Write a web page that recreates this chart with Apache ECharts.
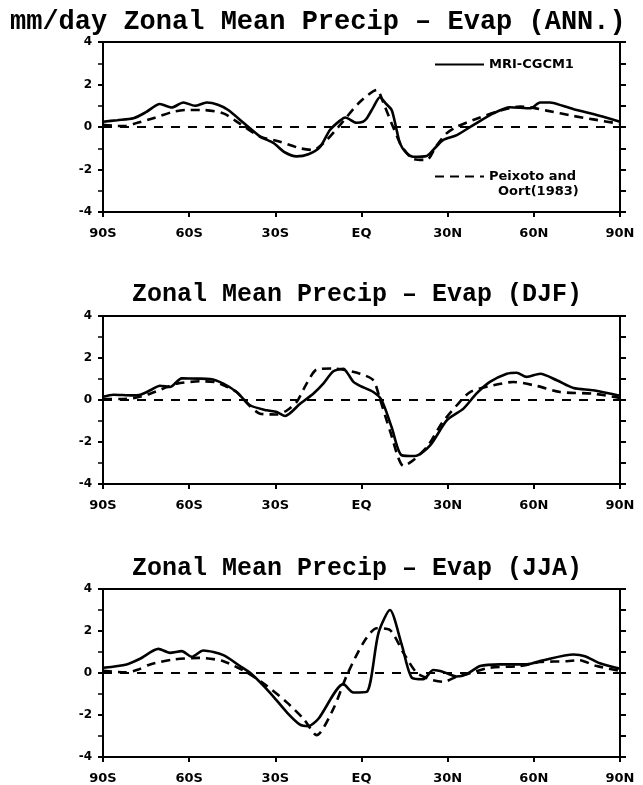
<!DOCTYPE html>
<html>
<head>
<meta charset="utf-8">
<script src="https://cdn.jsdelivr.net/npm/echarts@6/dist/echarts.min.js"></script>
<style>
html,body{margin:0;padding:0;background:#fff;}
#chart{width:643px;height:785px;}
</style>
</head>
<body>
<div id="chart"></div>
<script>
// ---- tick labels ----
var xTickValues = [-90, -60, -30, 0, 30, 60, 90];
var xTickLabels = ['90S', '60S', '30S', 'EQ', '30N', '60N', '90N'];
var yTickValues = [-4, -2, 0, 2, 4];
var yTickLabels = ['-4', '-2', '0', '2', '4'];

var panelTitles = ['mm/day Zonal Mean Precip \u2013 Evap (ANN.)', 'Zonal Mean Precip \u2013 Evap (DJF)', 'Zonal Mean Precip \u2013 Evap (JJA)'];
var modelName = 'MRI-CGCM1';
var obsName = 'Peixoto and Oort(1983)';

// ---- ANN ----
var annMriLat = [-90,-85,-79.4,-75,-70.2,-66.1,-62,-58,-53.9,-50,-46.4,-41.1,-35.3,-30.7,-26.6,-22.6,-18.5,-14.4,-11,-7.5,-5.7,-1.7,0.5,1.8,4,6.4,8.5,10.5,12,13.4,15.5,18,22.7,25.5,28.5,33.2,38.9,45.9,51.7,58.7,62.2,65.6,70,74.9,80.7,90];
var annMri    = [0.25,0.32,0.41,0.7,1.08,0.92,1.15,1.0,1.15,1.05,0.8,0.2,-0.45,-0.75,-1.2,-1.38,-1.28,-0.93,-0.14,0.3,0.45,0.2,0.25,0.4,0.9,1.4,1.1,0.8,0.0,-0.77,-1.2,-1.4,-1.36,-1.0,-0.61,-0.38,0.09,0.64,0.93,0.88,1.15,1.15,1.0,0.8,0.61,0.25];
var annObsLat = [-90,-85,-82,-78,-72.5,-65.5,-60.9,-55.1,-48.1,-42.5,-35.3,-28.4,-21.4,-16.8,-12.1,-7.5,-0.5,5.3,8,11,14,18,22.7,26,29.6,33,38.9,48.2,55.2,60,64.5,73.8,80.7,90];
var annObs    = [0.1,0.05,0.05,0.2,0.41,0.72,0.8,0.8,0.64,0.17,-0.45,-0.69,-1.0,-1.08,-0.61,0.09,1.19,1.74,1.0,0.0,-0.9,-1.5,-1.55,-0.9,-0.3,0.0,0.33,0.77,0.96,0.9,0.77,0.52,0.36,0.15];

// ---- DJF ----
var djfMriLat = [-90,-86.4,-80,-77,-73,-70.2,-66.7,-62.6,-57,-52.7,-48.1,-43.5,-38.8,-33,-29.5,-26.6,-21.4,-16.8,-13.3,-9.8,-6.3,-4.5,-2.8,-0.5,4.1,7,10.5,14,18.6,23.9,29.7,35.5,40,44.7,50.6,54,57.5,62.2,68,73.8,80.7,90];
var djfMri    = [0.15,0.25,0.22,0.25,0.5,0.68,0.62,1.03,1.02,1.0,0.78,0.38,-0.25,-0.49,-0.57,-0.76,-0.18,0.3,0.78,1.37,1.49,1.2,0.86,0.67,0.38,0.0,-1.3,-2.63,-2.67,-2.16,-0.97,-0.41,0.3,0.86,1.25,1.3,1.1,1.25,0.94,0.57,0.46,0.2];
var djfObsLat = [-90,-84,-79,-73.6,-68,-64.3,-56.2,-51,-48,-43.5,-38.8,-35.3,-29.5,-26,-22.6,-19.1,-15.6,-9.8,-0.5,4.1,6.4,10,14.6,18,23,28,33.2,37.8,45.9,52.9,61,69.1,80.7,90];
var djfObs    = [0.05,0.05,0.1,0.3,0.6,0.78,0.89,0.85,0.7,0.38,-0.3,-0.65,-0.69,-0.5,-0.1,0.78,1.45,1.5,1.25,0.94,0.06,-1.5,-3.14,-2.87,-2.2,-1.1,-0.25,0.38,0.7,0.86,0.67,0.38,0.3,0.1];

// ---- JJA ----
var jjaMriLat = [-90,-81.8,-77.1,-70.7,-66.7,-62.6,-59.1,-55.1,-48.1,-42.3,-38.2,-31.9,-26,-21.4,-18.5,-15,-6.3,-2.8,1.8,5.9,9.9,14,17.5,21.5,25,28.5,33.2,36.6,41.3,48.2,57.5,63.3,73.8,77.8,83,90];
var jjaMri    = [0.25,0.41,0.68,1.15,0.96,1.04,0.77,1.07,0.85,0.33,-0.06,-0.93,-1.87,-2.46,-2.53,-2.18,-0.53,-0.93,-0.9,1.9,3.0,1.35,-0.22,-0.3,0.14,0.05,-0.17,-0.06,0.33,0.41,0.41,0.61,0.88,0.8,0.46,0.2];
var jjaObsLat = [-90,-82,-78,-73.6,-65.5,-56.2,-48.1,-39.6,-33,-26,-20.2,-15.6,-9.8,-5.2,0.6,5.3,9.9,14.6,19.2,23.9,28.5,33.2,38,44.7,55,62.2,71.5,75.6,81.9,90];
var jjaObs    = [0.1,0.03,0.15,0.41,0.64,0.72,0.56,0.0,-0.61,-1.4,-2.18,-2.96,-1.71,-0.14,1.43,2.13,2.05,0.96,0.01,-0.3,-0.42,-0.17,0.0,0.25,0.33,0.52,0.56,0.61,0.33,0.1];

function pairs(xs, ys) { return xs.map(function (x, i) { return [x, ys[i]]; }); }

var panels = [
  { mri: pairs(annMriLat, annMri), obs: pairs(annObsLat, annObs) },
  { mri: pairs(djfMriLat, djfMri), obs: pairs(djfObsLat, djfObs) },
  { mri: pairs(jjaMriLat, jjaMri), obs: pairs(jjaObsLat, jjaObs) }
];

var gridTops = [42, 316, 589];
var gridHeights = [170, 168, 168];
var titleTops = [4, 277, 551];
var titleLefts = [5, 127, 127];
var titleSizes = [27, 25, 25];

var labelFont = { fontFamily: 'DejaVu Sans', fontWeight: 'bold', fontSize: 12, color: '#000' };
var xLabelFont = { fontFamily: 'DejaVu Sans', fontWeight: 'bold', fontSize: 13, color: '#000' };

var grids = [], xAxes = [], yAxes = [], series = [], titles = [];
for (var p = 0; p < 3; p++) {
  grids.push({ left: 103, right: 23, top: gridTops[p], height: gridHeights[p], show: true, borderColor: '#000', borderWidth: 2, backgroundColor: 'transparent' });
  titles.push({ text: panelTitles[p], left: titleLefts[p], top: titleTops[p], textStyle: { fontFamily: 'Liberation Mono', fontWeight: 'bold', fontSize: titleSizes[p], color: '#000' } });
  xAxes.push({
    type: 'value', gridIndex: p, min: -90, max: 90, interval: 30,
    axisLine: { show: true, onZero: false, lineStyle: { color: '#000', width: 2 } },
    axisTick: { show: true, length: 5, lineStyle: { color: '#000', width: 2 } },
    splitLine: { show: false },
    axisLabel: Object.assign({ margin: 15, formatter: function (v) { var i = xTickValues.indexOf(v); return i >= 0 ? xTickLabels[i] : ''; } }, xLabelFont)
  });
  yAxes.push({
    type: 'value', gridIndex: p, min: -4, max: 4, interval: 2, position: 'left',
    axisLine: { show: true, onZero: false, lineStyle: { color: '#000', width: 2 } },
    axisTick: { show: true, length: 5, lineStyle: { color: '#000', width: 2 } },
    minorTick: { show: true, splitNumber: 2, length: 5, lineStyle: { color: '#000', width: 1.5 } },
    splitLine: { show: false },
    axisLabel: Object.assign({ margin: 11, formatter: function (v) { var i = yTickValues.indexOf(v); return i >= 0 ? yTickLabels[i] : ''; } }, labelFont)
  });
  yAxes.push({
    type: 'value', gridIndex: p, min: -4, max: 4, interval: 2, position: 'right',
    axisLine: { show: true, onZero: false, lineStyle: { color: '#000', width: 2 } },
    axisTick: { show: true, length: 6, lineStyle: { color: '#000', width: 2 } },
    minorTick: { show: true, splitNumber: 2, length: 6, lineStyle: { color: '#000', width: 2 } },
    splitLine: { show: false },
    axisLabel: { show: false }
  });
  series.push({
    name: modelName, type: 'line', xAxisIndex: p, yAxisIndex: p * 2, data: panels[p].mri,
    symbol: 'none', smooth: 0.25, lineStyle: { color: '#000', width: 2.6, type: 'solid' }, itemStyle: { color: '#000' }, z: 3
  });
  series.push({
    name: obsName, type: 'line', xAxisIndex: p, yAxisIndex: p * 2, data: panels[p].obs,
    symbol: 'none', smooth: 0.25, lineStyle: { color: '#000', width: 2.6, type: [9, 6] }, itemStyle: { color: '#000' }, z: 2,
    markLine: { silent: true, symbol: 'none', label: { show: false }, lineStyle: { color: '#000', width: 2.2, type: [9, 8] }, data: [{ yAxis: 0 }] }
  });
}

var chart = echarts.init(document.getElementById('chart'), null, { renderer: 'canvas' });
chart.setOption({
  backgroundColor: '#fff',
  animation: false,
  title: titles,
  grid: grids,
  xAxis: xAxes,
  yAxis: yAxes,
  legend: [
    { data: [modelName], left: 434, top: 58, padding: 0, itemWidth: 49, itemHeight: 14, itemGap: 0,
      itemStyle: { opacity: 0 },
      textStyle: { fontFamily: 'DejaVu Sans', fontWeight: 'bold', fontSize: 13, color: '#000' } },
    { data: [obsName], left: 434, top: 154, padding: 0, itemWidth: 49, itemHeight: 14, itemGap: 0,
      itemStyle: { opacity: 0 },
      formatter: function () { return '\u00a0\nPeixoto and\n  Oort(1983)'; },
      textStyle: { fontFamily: 'DejaVu Sans', fontWeight: 'bold', fontSize: 13, lineHeight: 15, color: '#000' } }
  ],
  series: series
});
</script>
</body>
</html>
